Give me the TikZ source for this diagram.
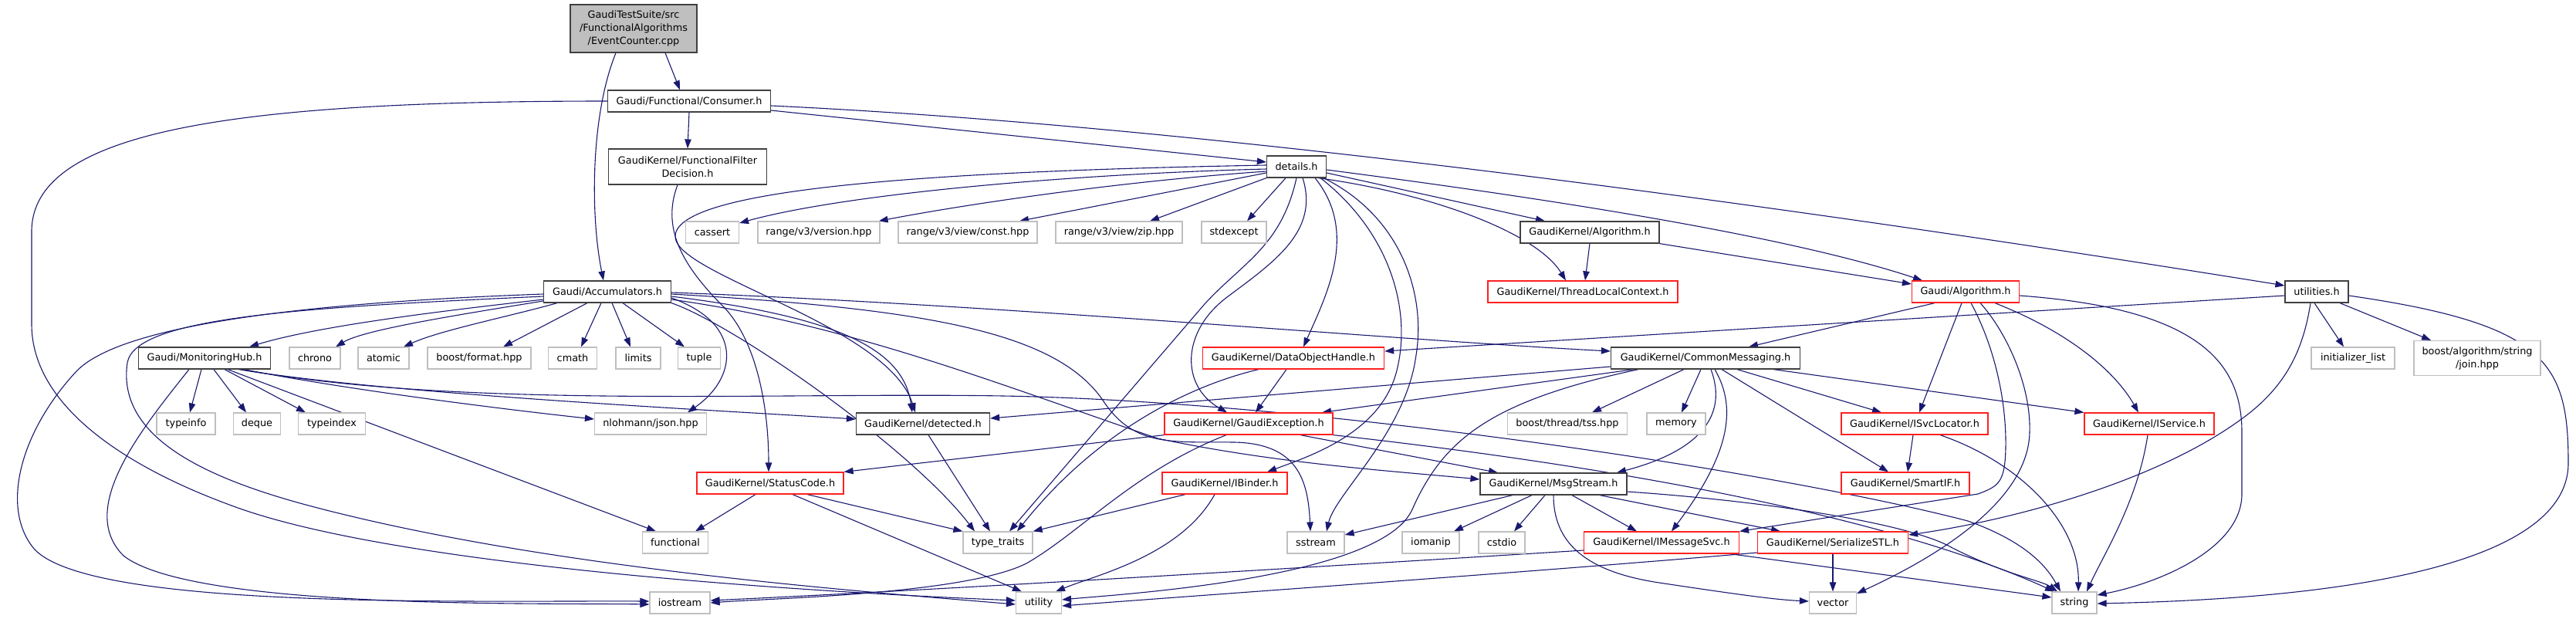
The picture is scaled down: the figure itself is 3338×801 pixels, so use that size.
\documentclass[tikz,border=0pt]{standalone}
\usepackage{fontspec}
\setmainfont{DejaVu Sans}
\usetikzlibrary{arrows.meta}
\definecolor{edgec}{HTML}{191970}
\definecolor{docc}{HTML}{404040}
\definecolor{truncc}{HTML}{FF2020}
\definecolor{extc}{HTML}{BFBFBF}
\newcommand\nodefont{\fontsize{12.83pt}{17pt}\selectfont}
\pgfdeclarelayer{back}
\pgfdeclarelayer{edges}
\pgfsetlayers{back,edges,main}
\begin{document}
\begin{tikzpicture}[x=1pt,y=-1pt,
  box/.style={draw, fill=white, line width=1.2pt, inner sep=0pt, font=\nodefont, align=center, minimum height=28pt},
  doc/.style={box, draw=docc},
  trunc/.style={box, draw=truncc},
  ext/.style={box, draw=extc},
  rootbox/.style={box, fill=extc, draw=docc},
  dep/.style={draw=edgec, line width=1.1pt, -{Triangle[length=12pt,width=8.5pt]}}
]
\begin{pgfonlayer}{back}
\fill[white] (0,0) rectangle (3338,801);
\end{pgfonlayer}
\useasboundingbox (0,0) rectangle (3338,801);

% ---------- nodes ----------
\node[rootbox, minimum width=164pt, minimum height=62pt] (ec) at (821,37) {GaudiTestSuite/src\\/FunctionalAlgorithms\\/EventCounter.cpp};
\node[doc, minimum width=211pt] (cons) at (893,131) {Gaudi/Functional/Consumer.h};
\node[doc, minimum width=205pt, minimum height=46pt] (ffd) at (891,216) {GaudiKernel/FunctionalFilter\\Decision.h};
\node[doc, minimum width=77pt] (det) at (1680,216) {details.h};
\node[ext, minimum width=69pt] (cassert) at (923,301) {cassert};
\node[ext, minimum width=158pt] (ver) at (1061,301) {range/v3/version.hpp};
\node[ext, minimum width=180pt] (vconst) at (1254,301) {range/v3/view/const.hpp};
\node[ext, minimum width=164pt] (vzip) at (1450,301) {range/v3/view/zip.hpp};
\node[ext, minimum width=84pt] (stdexc) at (1599,301) {stdexcept};
\node[doc, minimum width=180pt] (kalg) at (2060,301) {GaudiKernel/Algorithm.h};
\node[doc, minimum width=165pt] (acc) at (787,378) {Gaudi/Accumulators.h};
\node[trunc, minimum width=246pt] (tlc) at (2051,378) {GaudiKernel/ThreadLocalContext.h};
\node[trunc, minimum width=139pt] (galg) at (2547,378) {Gaudi/Algorithm.h};
\node[doc, minimum width=82pt] (util) at (3002,378) {utilities.h};

\node[doc, minimum width=171pt] (mh) at (265,464) {Gaudi/MonitoringHub.h};
\node[ext, minimum width=66pt] (chrono) at (408,464) {chrono};
\node[ext, minimum width=66pt] (atomic) at (497,464) {atomic};
\node[ext, minimum width=134pt] (bfmt) at (621,464) {boost/format.hpp};
\node[ext, minimum width=63pt] (cmath) at (742,464) {cmath};
\node[ext, minimum width=58pt] (limits) at (827,464) {limits};
\node[ext, minimum width=55pt] (tuple) at (906,464) {tuple};
\node[trunc, minimum width=235pt] (doh) at (1676,464) {GaudiKernel/DataObjectHandle.h};
\node[doc, minimum width=245pt] (cm) at (2210,464) {GaudiKernel/CommonMessaging.h};
\node[ext, minimum width=108pt] (initl) at (3049,464) {initializer\_list};
\node[ext, minimum width=164pt, minimum height=45pt] (join) at (3210,464) {boost/algorithm/string\\/join.hpp};

\node[ext, minimum width=76pt] (typeinfo) at (241,549) {typeinfo};
\node[ext, minimum width=61pt] (deque) at (333,549) {deque};
\node[ext, minimum width=87pt] (typeindex) at (430,549) {typeindex};
\node[ext, minimum width=145pt] (json) at (843,549) {nlohmann/json.hpp};
\node[doc, minimum width=173pt] (detd) at (1196,549) {GaudiKernel/detected.h};
\node[trunc, minimum width=218pt] (gexc) at (1618,549) {GaudiKernel/GaudiException.h};
\node[ext, minimum width=155pt] (tss) at (2031,549) {boost/thread/tss.hpp};
\node[ext, minimum width=76pt] (memory) at (2172,549) {memory};
\node[trunc, minimum width=190pt] (svcloc) at (2481,549) {GaudiKernel/ISvcLocator.h};
\node[trunc, minimum width=168pt] (iservice) at (2785,549) {GaudiKernel/IService.h};

\node[trunc, minimum width=190pt] (status) at (998,626) {GaudiKernel/StatusCode.h};
\node[trunc, minimum width=162pt] (ibinder) at (1587,626) {GaudiKernel/IBinder.h};
\node[doc, minimum width=190pt] (msgs) at (2013,627) {GaudiKernel/MsgStream.h};
\node[trunc, minimum width=166pt] (smartif) at (2469,626) {GaudiKernel/SmartIF.h};

\node[ext, minimum width=85pt] (functional) at (875,703) {functional};
\node[ext, minimum width=90pt] (tt) at (1293,703) {type\_traits};
\node[ext, minimum width=74pt] (sstream) at (1705,703) {sstream};
\node[ext, minimum width=74pt] (iomanip) at (1854,703) {iomanip};
\node[ext, minimum width=60pt] (cstdio) at (1946,703) {cstdio};
\node[trunc, minimum width=201pt] (imsg) at (2153,703) {GaudiKernel/IMessageSvc.h};
\node[trunc, minimum width=195pt] (sstl) at (2375,703) {GaudiKernel/SerializeSTL.h};

\node[ext, minimum width=78pt] (iostream) at (881,781) {iostream};
\node[ext, minimum width=59pt] (utility) at (1346,781) {utility};
\node[ext, minimum width=61pt] (vector) at (2375,781) {vector};
\node[ext, minimum width=58pt] (string) at (2688,781) {string};

% ---------- edges ----------
\begin{pgfonlayer}{edges}
% root
\draw[dep] ([xshift=41pt]ec.south) -- ([xshift=-12pt]cons.north);
\draw[dep] ([xshift=-23pt]ec.south) .. controls (765,150) and (765,280) .. ([xshift=-5pt]acc.north);
% Consumer.h
\draw[dep] ([yshift=-12pt]cons.east) -- ([yshift=6pt]det.west);
\draw[dep] (cons.south) -- (ffd.north);
\draw[dep] ([yshift=-6pt]cons.east) .. controls (1600,165) and (2400,280) .. ([yshift=8pt]util.west);
\draw[dep] (cons.west) .. controls (300,131) and (41,170) .. (41,300) -- (41,420) .. controls (41,520) and (150,600) .. (300,655) .. controls (500,730) and (1000,765) .. ([yshift=3pt]utility.west);
% FunctionalFilterDecision.h
\draw[dep] ([xshift=-13pt]ffd.south) .. controls (855,300) and (890,350) .. (940,400) .. controls (985,450) and (996,540) .. ([xshift=-2pt]status.north);
% details.h
\draw[dep] ([yshift=-3pt]det.west) .. controls (1400,225) and (1100,250) .. ([yshift=12pt]cassert.east);
\draw[dep] ([yshift=-6pt]det.west) .. controls (1450,235) and (1250,265) .. ([xshift=-2pt]ver.north east);
\draw[dep] ([yshift=2pt]det.west) .. controls (1200,222) and (880,245) .. (875,305) .. controls (870,355) and (1150,420) .. ([xshift=-10pt]detd.north);
\draw[dep] ([yshift=-8pt]det.west) -- ([xshift=67pt]vconst.north);
\draw[dep] (det.south west) -- ([xshift=40pt]vzip.north);
\draw[dep] ([xshift=-14pt]det.south) -- ([xshift=17pt]stdexc.north);
\draw[dep] ([yshift=-8pt]det.east) -- ([xshift=-58pt]kalg.north);
\draw[dep] ([xshift=28pt]det.south) .. controls (1850,250) and (1990,300) .. ([xshift=-22pt]tlc.north);
\draw[dep] ([yshift=-4pt]det.east) .. controls (1950,250) and (2300,300) .. ([xshift=-56pt]galg.north);
\draw[dep] (det.south) .. controls (1660,320) and (1610,340) .. (1560,395) -- ([xshift=15pt]tt.north);
\draw[dep] ([xshift=8pt]det.south) .. controls (1710,300) and (1650,340) .. (1590,385) .. controls (1530,430) and (1530,500) .. ([xshift=-28pt]gexc.north);
\draw[dep] ([xshift=24pt]det.south) .. controls (1760,300) and (1720,380) .. ([xshift=13pt]doh.north);
\draw[dep] ([xshift=31pt]det.south) .. controls (1800,300) and (1830,400) .. (1810,480) .. controls (1790,560) and (1700,590) .. ([xshift=55pt]ibinder.north);
\draw[dep] ([xshift=35pt]det.south) .. controls (1815,280) and (1848,380) .. (1835,460) .. controls (1822,560) and (1730,640) .. ([xshift=14pt]sstream.north);
% GaudiKernel/Algorithm.h
\draw[dep] (kalg.south) -- ([xshift=3pt]tlc.north);
\draw[dep] (kalg.south east) -- ([yshift=10pt]galg.west);
% utilities.h
\draw[dep] ([yshift=-5pt]util.west) -- ([yshift=9pt]doh.east);
\draw[dep] ([xshift=-3pt]util.south) -- ([xshift=-12pt]initl.north);
\draw[dep] ([xshift=30pt]util.south) -- ([xshift=-60pt]join.north);
\draw[dep] ([xshift=-8pt]util.south) .. controls (2985,450) and (2965,495) .. (2915,535) .. controls (2800,625) and (2600,675) .. ([yshift=10pt]sstl.east);
\draw[dep] ([yshift=-5pt]util.east) .. controls (3300,420) and (3328,470) .. (3328,600) .. controls (3328,760) and (2900,778) .. ([yshift=-1pt]string.east);
% Gaudi/Algorithm.h
\draw[dep] ([xshift=-40pt]galg.south) -- ([xshift=56pt]cm.north);
\draw[dep] ([xshift=-5pt]galg.south) -- ([xshift=6pt]svcloc.north);
\draw[dep] ([xshift=7pt]galg.south) .. controls (2585,450) and (2600,520) .. (2599,580) .. controls (2598,625) and (2590,630) .. (2563,640) -- (imsg.north east);
\draw[dep] ([xshift=19pt]galg.south) .. controls (2600,430) and (2632,500) .. (2630,560) .. controls (2628,660) and (2480,735) .. ([yshift=12pt]vector.east);
\draw[dep] ([xshift=38pt]galg.south) .. controls (2680,430) and (2740,480) .. ([xshift=-14pt]iservice.north);
\draw[dep] ([yshift=-5pt]galg.east) .. controls (2850,400) and (2905,470) .. (2905,560) -- (2905,640) .. controls (2905,710) and (2800,755) .. ([yshift=10pt]string.east);
% CommonMessaging.h
\draw[dep] ([yshift=-11pt]cm.west) -- ([yshift=7pt]detd.east);
\draw[dep] ([xshift=-93pt]cm.south) -- ([xshift=95pt]gexc.north);
\draw[dep] ([xshift=-28pt]cm.south) -- ([xshift=32pt]tss.north);
\draw[dep] ([xshift=-6pt]cm.south) -- ([xshift=7pt]memory.north);
\draw[dep] ([xshift=7pt]cm.south) .. controls (2240,540) and (2200,585) .. ([xshift=82pt]msgs.north);
\draw[dep] ([xshift=12pt]cm.south) .. controls (2252,530) and (2240,590) .. ([xshift=13pt]imsg.north);
\draw[dep] ([xshift=21pt]cm.south) -- ([xshift=-22pt]smartif.north);
\draw[dep] ([xshift=41pt]cm.south) -- ([xshift=-43pt]svcloc.north);
\draw[dep] ([xshift=88pt]cm.south) -- (iservice.north west);
\draw[dep] ([xshift=-87pt]cm.south) .. controls (1930,520) and (1870,570) .. (1830,660) .. controls (1790,750) and (1450,770) .. ([yshift=4pt]utility.east);
% Accumulators.h
\draw[dep] ([yshift=-10pt]acc.west) .. controls (600,400) and (420,420) .. ([xshift=58pt]mh.north);
\draw[dep] ([yshift=-12pt]acc.west) .. controls (580,410) and (470,428) .. ([xshift=27pt]chrono.north);
\draw[dep] ([xshift=-65pt]acc.south) .. controls (660,410) and (570,428) .. ([xshift=26pt]atomic.north);
\draw[dep] ([xshift=-26pt]acc.south) -- ([xshift=31pt]bfmt.north);
\draw[dep] ([xshift=-8pt]acc.south) -- ([xshift=11pt]cmath.north);
\draw[dep] ([xshift=6pt]acc.south) -- ([xshift=-10pt]limits.north);
\draw[dep] ([xshift=20pt]acc.south) -- ([xshift=-19pt]tuple.north);
\draw[dep] ([yshift=-8pt]acc.east) .. controls (965,420) and (955,490) .. ([xshift=48pt]json.north);
\draw[dep] ([yshift=-6pt]acc.east) .. controls (1080,410) and (1170,450) .. ([xshift=-14pt]detd.north);
\draw[dep] (acc.south east) .. controls (950,420) and (1180,580) .. ([xshift=-30pt]tt.north);
\draw[dep] ([yshift=-3pt]acc.east) .. controls (1200,400) and (1370,430) .. (1430,520) .. controls (1470,580) and (1520,572) .. (1600,573) .. controls (1680,575) and (1695,620) .. ([xshift=-7pt]sstream.north);
\draw[dep] ([yshift=-10pt]acc.east) .. controls (1100,420) and (1300,500) .. (1500,568) .. controls (1650,600) and (1800,610) .. ([yshift=6pt]msgs.west);
\draw[dep] ([yshift=-1pt]acc.east) .. controls (1300,395) and (1800,440) .. ([yshift=9pt]cm.west);
\draw[dep] ([yshift=-3pt]acc.west) .. controls (400,392) and (160,420) .. (100,480) .. controls (25,560) and (0,660) .. (45,712) .. controls (120,790) and (600,778) .. ([yshift=2pt]iostream.west);
\draw[dep] ([yshift=-6pt]acc.west) .. controls (400,398) and (175,410) .. (165,470) .. controls (152,560) and (250,615) .. (400,655) .. controls (700,735) and (1100,765) .. ([yshift=-2pt]utility.west);
% MonitoringHub.h
\draw[dep] ([xshift=-4pt]mh.south) -- ([xshift=5pt]typeinfo.north);
\draw[dep] ([xshift=12pt]mh.south) -- ([xshift=-14pt]deque.north);
\draw[dep] ([xshift=26pt]mh.south) -- ([xshift=-34pt]typeindex.north);
\draw[dep] ([xshift=30pt]mh.south) -- ([xshift=-25pt]functional.north);
\draw[dep] ([xshift=51pt]mh.south) .. controls (450,505) and (650,530) .. ([yshift=6pt]json.west);
\draw[dep] ([xshift=44pt]mh.south) .. controls (500,510) and (900,530) .. ([yshift=6pt]detd.west);
\draw[dep] ([xshift=47pt]mh.south) .. controls (600,530) and (1000,508) .. (1300,513) .. controls (1700,520) and (2300,610) .. (2550,675) .. controls (2620,700) and (2650,730) .. ([xshift=-18pt]string.north);
\draw[dep] ([xshift=-20pt]mh.south) .. controls (180,560) and (100,660) .. (160,720) .. controls (250,790) and (700,781) .. ([yshift=-2pt]iostream.west);
% DataObjectHandle.h
\draw[dep] ([xshift=-9pt]doh.south) -- ([xshift=9pt]gexc.north);
\draw[dep] ([xshift=-45pt]doh.south) .. controls (1540,500) and (1420,560) .. ([xshift=25pt]tt.north);
% GaudiException.h
\draw[dep] (gexc.south west) -- (status.north east);
\draw[dep] ([xshift=-29pt]gexc.south) .. controls (1470,610) and (1400,690) .. (1330,730) .. controls (1250,770) and (1000,775) .. (iostream.east);
\draw[dep] ([xshift=67pt]gexc.south) -- ([xshift=-72pt]msgs.north);
\draw[dep] (gexc.south east) .. controls (2100,605) and (2450,670) .. ([xshift=-26pt]string.north);
% StatusCode.h
\draw[dep] ([xshift=-19pt]status.south) -- ([xshift=26pt]functional.north);
\draw[dep] ([xshift=48pt]status.south) -- (tt.north west);
\draw[dep] ([xshift=29pt]status.south) -- ([xshift=-22pt]utility.north);
% IBinder.h
\draw[dep] ([xshift=-51pt]ibinder.south) -- (tt.north east);
\draw[dep] ([xshift=-13pt]ibinder.south) .. controls (1530,720) and (1420,745) .. ([xshift=22pt]utility.north);
% detected.h
\draw[dep] ([xshift=7pt]detd.south) -- ([xshift=-10pt]tt.north);
% MsgStream.h
\draw[dep] ([xshift=-53pt]msgs.south) -- ([yshift=10pt]sstream.east);
\draw[dep] ([xshift=-28pt]msgs.south) -- ([xshift=30pt]iomanip.north);
\draw[dep] ([xshift=-11pt]msgs.south) -- ([xshift=16pt]cstdio.north);
\draw[dep] ([xshift=24pt]msgs.south) -- ([xshift=-32pt]imsg.north);
\draw[dep] ([xshift=60pt]msgs.south) -- ([xshift=-68pt]sstl.north);
\draw[dep] ([yshift=-10pt]msgs.east) .. controls (2300,650) and (2480,680) .. (2530,710) .. controls (2600,745) and (2645,752) .. ([xshift=-22pt]string.north);
\draw[dep] (msgs.south) .. controls (2013,700) and (2050,740) .. (2150,755) .. controls (2250,770) and (2300,777) .. ([yshift=2pt]vector.west);
% IMessageSvc.h
\draw[dep] ([yshift=-10pt]imsg.west) .. controls (1700,735) and (1200,765) .. ([yshift=3pt]iostream.east);
\draw[dep] ([xshift=89pt]imsg.south) -- ([yshift=7pt]string.west);
% SerializeSTL.h
\draw[dep] (sstl.south) -- (vector.north);
\draw[dep] ([yshift=-13pt]sstl.west) .. controls (2000,740) and (1600,768) .. ([yshift=-4pt]utility.east);
% ISvcLocator.h / IService.h
\draw[dep] ([xshift=-2pt]svcloc.south) -- ([xshift=3pt]smartif.north);
\draw[dep] ([xshift=33pt]svcloc.south) .. controls (2620,600) and (2695,680) .. ([xshift=5pt]string.north);
\draw[dep] ([xshift=-2pt]iservice.south) .. controls (2770,650) and (2725,720) .. ([xshift=16pt]string.north);
\end{pgfonlayer}
\end{tikzpicture}
\end{document}
